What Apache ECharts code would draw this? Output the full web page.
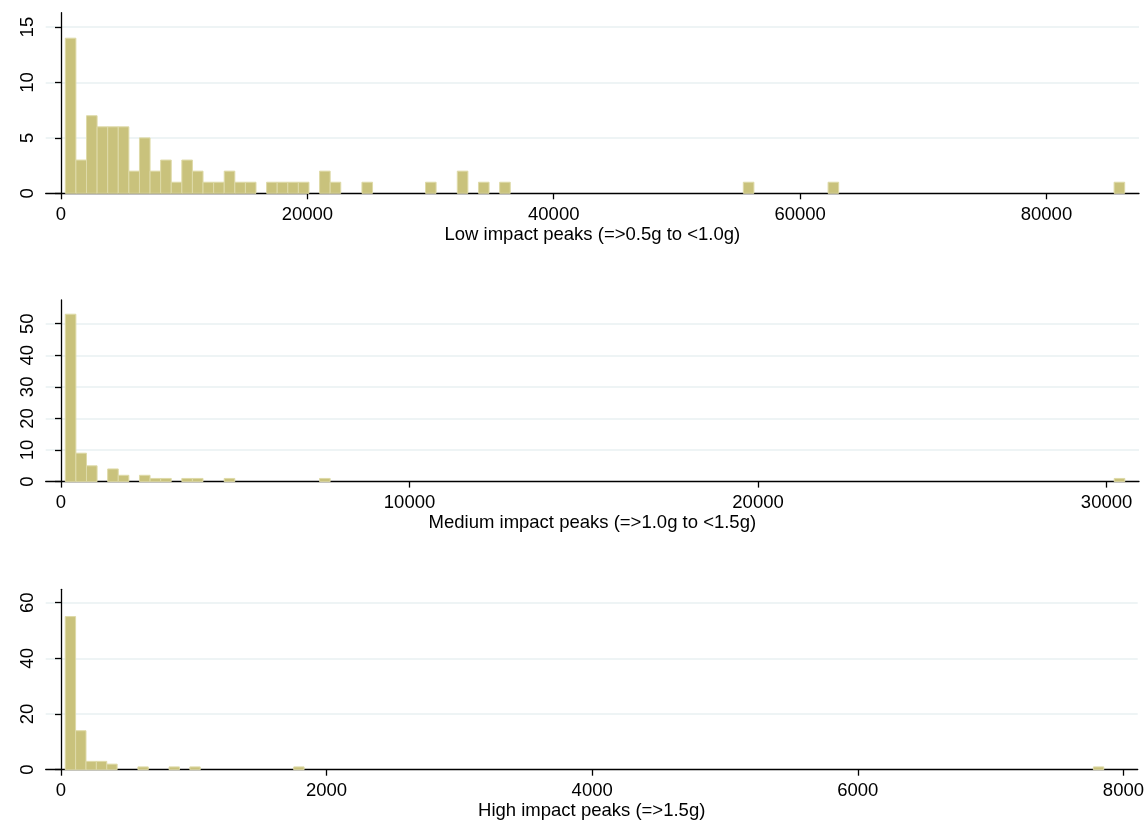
<!DOCTYPE html>
<html><head><meta charset="utf-8">
<script src="https://cdn.jsdelivr.net/npm/echarts@6/dist/echarts.min.js"></script>
<style>html,body{margin:0;padding:0;background:#fff}#c{width:1147px;height:827px}</style>
</head><body><div id="c"></div>
<script>
// ---- data ----
const panelTitles = ['Low impact peaks (=>0.5g to <1.0g)', 'Medium impact peaks (=>1.0g to <1.5g)', 'High impact peaks (=>1.5g)'];

// histogram definition: first bin start, bin width, and [binIndex, frequency] for non-empty bins
const lowBinStart = 350, lowBinWidth = 860;
const lowBins = [[0,14],[1,3],[2,7],[3,6],[4,6],[5,6],[6,2],[7,5],[8,2],[9,3],[10,1],[11,3],[12,2],[13,1],[14,1],[15,2],[16,1],[17,1],[19,1],[20,1],[21,1],[22,1],[24,2],[25,1],[28,1],[34,1],[37,2],[39,1],[41,1],[64,1],[72,1],[99,1]];
const lowXTicks = [0, 20000, 40000, 60000, 80000];
const lowYTicks = [0, 5, 10, 15];

const medBinStart = 123, medBinWidth = 304;
const medBins = [[0,53],[1,9],[2,5],[4,4],[5,2],[7,2],[8,1],[9,1],[11,1],[12,1],[15,1],[24,1],[99,1]];
const medXTicks = [0, 10000, 20000, 30000];
const medYTicks = [0, 10, 20, 30, 40, 50];

const highBinStart = 32, highBinWidth = 78.2;
const highBins = [[0,55],[1,14],[2,3],[3,3],[4,2],[7,1],[10,1],[12,1],[22,1],[99,1]];
const highXTicks = [0, 2000, 4000, 6000, 8000];
const highYTicks = [0, 20, 40, 60];

// ---- chart ----
const FONT = "'Liberation Sans', Arial, Helvetica, sans-serif";
const FS = 18.5;
const panels = [
  {bins: lowBins, start: lowBinStart, width: lowBinWidth, xt: lowXTicks, yt: lowYTicks, xr: [-1242, 87511], yr: [0, 16.3], top: 12.7, h: 180.6},
  {bins: medBins, start: medBinStart, width: medBinWidth, xt: medXTicks, yt: medYTicks, xr: [-439, 30930], yr: [0, 57.5], top: 300, h: 181.6},
  {bins: highBins, start: highBinStart, width: highBinWidth, xt: highXTicks, yt: highYTicks, xr: [-115, 8107.5], yr: [0, 64.8], top: 589.3, h: 180.4}
];

const plain = v => String(v);
const grid = [], xAxis = [], yAxis = [], series = [];
panels.forEach((p, i) => {
  grid.push({left: 45.7, width: 1139 - 45.7, top: p.top, height: p.h});
  xAxis.push({
    gridIndex: i, type: 'value', min: p.xr[0], max: p.xr[1],
    name: panelTitles[i], nameLocation: 'middle', nameGap: 31,
    nameTextStyle: {color: '#000', fontSize: FS, fontFamily: FONT},
    axisLine: {show: true, onZero: false, lineStyle: {color: '#000', width: 1.3}},
    axisTick: {show: true, length: 6, customValues: p.xt, lineStyle: {color: '#000', width: 1.3}},
    axisLabel: {customValues: p.xt, formatter: plain, color: '#000', fontSize: FS, fontFamily: FONT, margin: 12},
    splitLine: {show: false}
  });
  yAxis.push({
    gridIndex: i, type: 'value', min: p.yr[0], max: p.yr[1],
    axisLine: {show: true, lineStyle: {color: '#000', width: 1.3}},
    axisTick: {show: true, length: 6, customValues: p.yt, lineStyle: {color: '#000', width: 1.3}},
    axisLabel: {customValues: p.yt, formatter: plain, rotate: 90, color: '#000', fontSize: FS, fontFamily: FONT, margin: 8},
    splitLine: {show: true, lineStyle: {color: p.yt.map((v, j) => j === 0 ? 'rgba(0,0,0,0)' : '#e8f0f2'), width: 1.6}}
  });
  const start = p.start, w = p.width;
  series.push({
    type: 'custom', xAxisIndex: i, yAxisIndex: i,
    data: p.bins.map(([k, n]) => [start + k * w, n, start + (k + 1) * w]),
    encode: {x: [0, 2], y: 1},
    renderItem: function (params, api) {
      const a = api.coord([api.value(0), api.value(1)]);
      const b = api.coord([api.value(2), 0]);
      return {type: 'rect', shape: {x: a[0], y: a[1], width: b[0] - a[0], height: b[1] - a[1]},
        style: {fill: '#c9c27c', stroke: '#dedaa8', lineWidth: 1}};
    }
  });
});

const chart = echarts.init(document.getElementById('c'), null, {renderer: 'canvas'});
chart.setOption({animation: false, backgroundColor: '#fff', grid, xAxis, yAxis, series});
</script></body></html>
